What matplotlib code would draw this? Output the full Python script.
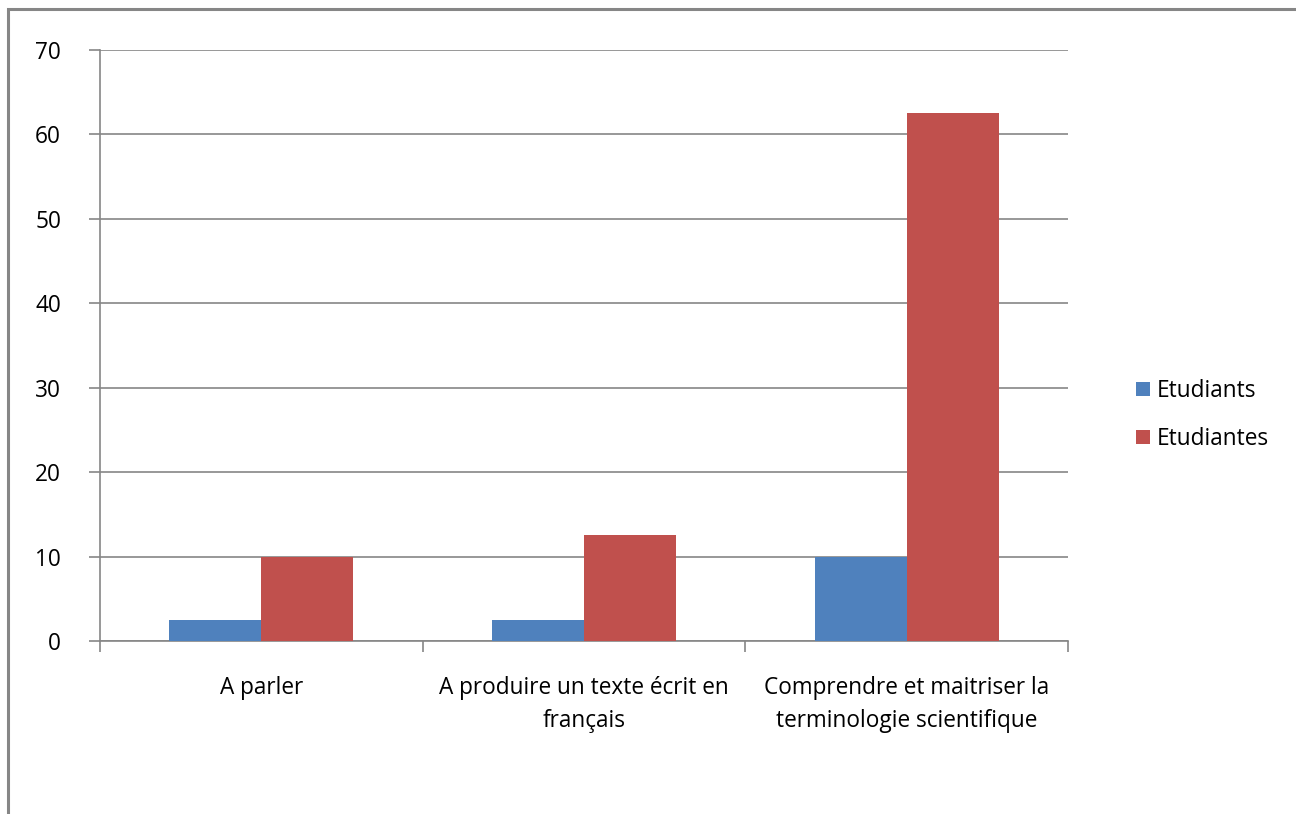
import matplotlib
matplotlib.use("Agg")
import matplotlib.pyplot as plt
from matplotlib.patches import Rectangle
import numpy as np

categories = ["A parler", "A produire un texte écrit en\nfrançais",
              "Comprendre et maitriser la\nterminologie scientifique"]
series_names = ["Etudiants", "Etudiantes"]
etudiants = [2.5, 2.5, 10]
etudiantes = [10, 12.5, 62.5]
yticks = [0, 10, 20, 30, 40, 50, 60, 70]

plt.rcParams['font.family'] = ['Open Sans', 'DejaVu Sans']
FS = 16.3
grey = "#868686"

fig = plt.figure(figsize=(12.96, 8.14), dpi=100)
W, H = 1296, 814
ax = fig.add_axes([100 / W, 1 - 641 / H, 968 / W, 591 / H])

x = np.arange(len(categories))
bw = 0.285
ax.bar(x - bw / 2, etudiants, bw, color="#4F81BD", label=series_names[0], zorder=3)
ax.bar(x + bw / 2, etudiantes, bw, color="#C0504D", label=series_names[1], zorder=3)

ax.set_xlim(-0.5, len(categories) - 0.5)
ax.set_ylim(0, 70)
ax.set_yticks(yticks)
ax.set_yticklabels([str(v) for v in yticks], fontsize=FS)
ax.yaxis.grid(True, color=grey, linewidth=1.2, zorder=0)
ax.set_axisbelow(True)
ax.tick_params(axis='y', length=8, color=grey, width=1.2, pad=20)

ax.set_xticks(x)
ax.set_xticklabels(categories, fontsize=FS, linespacing=1.5)
ax.tick_params(axis='x', length=0, pad=25)
ax.set_xticks(np.arange(len(categories) + 1) - 0.5, minor=True)
ax.tick_params(axis='x', which='minor', length=8, color=grey, width=1.2)

for s in ['top', 'right']:
    ax.spines[s].set_visible(False)
for s in ['left', 'bottom']:
    ax.spines[s].set_color(grey)
    ax.spines[s].set_linewidth(1.2)

leg = fig.legend(loc='center left', bbox_to_anchor=(1116 / W, 1 - 415 / H),
                 frameon=False, fontsize=FS, handlelength=0.6, handleheight=0.6,
                 handletextpad=0.3, labelspacing=1.05)

# outer frame
fig.patches.append(Rectangle((8 / W, -0.05), 1.2, 1 - 8.5 / H + 0.05,
                             transform=fig.transFigure, fill=False,
                             edgecolor=grey, linewidth=2.2))

fig.savefig("out.png", dpi=100)
